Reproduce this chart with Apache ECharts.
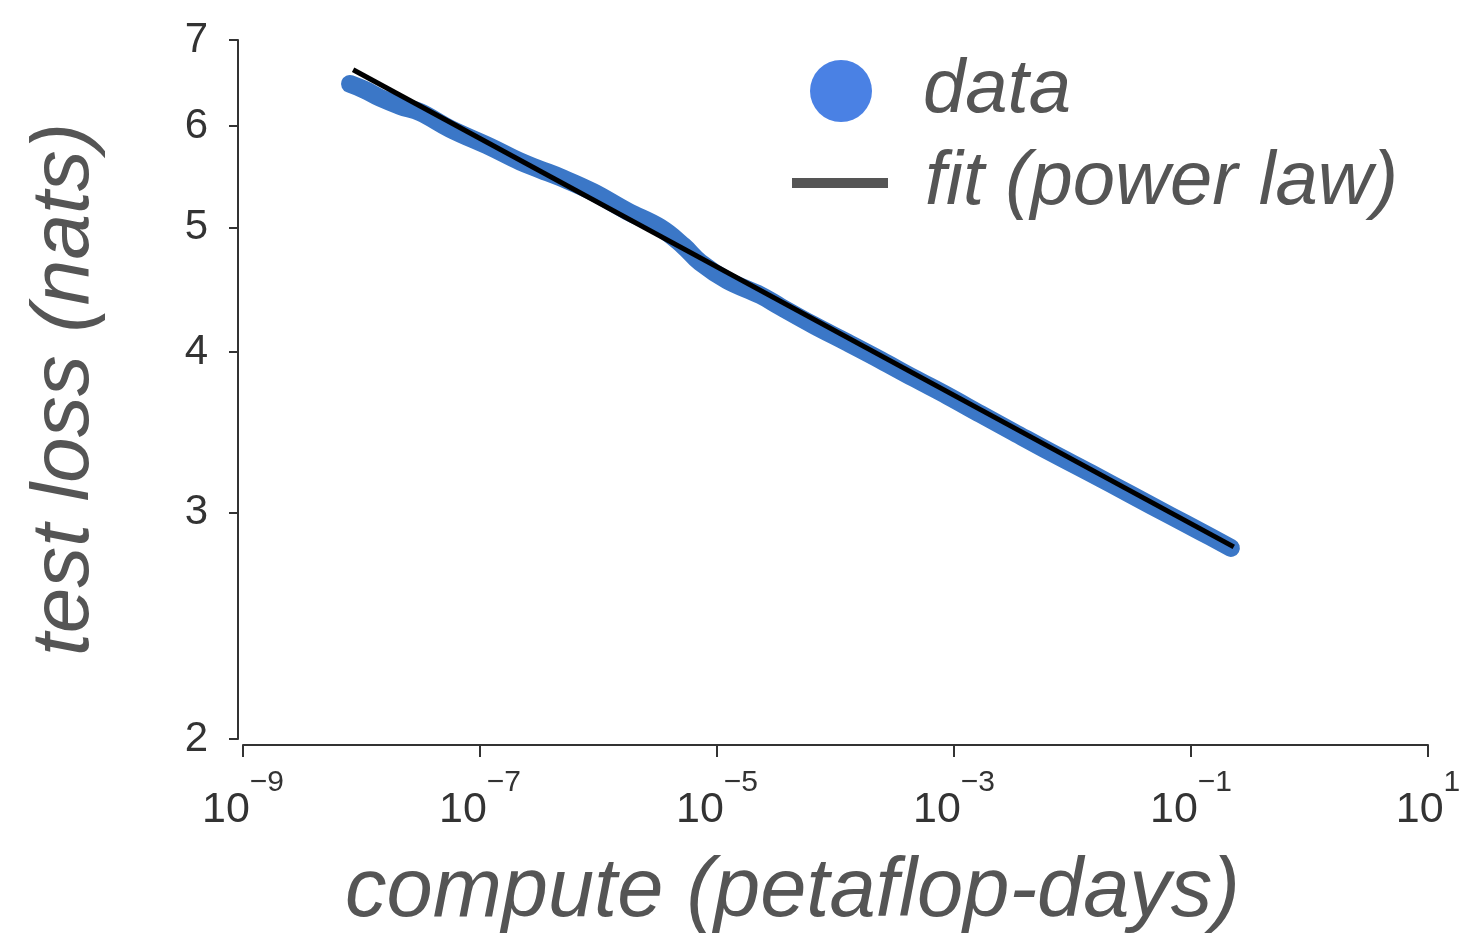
<!DOCTYPE html>
<html>
<head>
<meta charset="utf-8">
<script src="https://cdn.jsdelivr.net/npm/echarts@6/dist/echarts.min.js"></script>
<style>
html,body{margin:0;padding:0;background:#fff;}
#chart{width:1464px;height:936px;}
</style>
</head>
<body>
<div id="chart"></div>
<script>
// Data
const computePF = [8.0e-9, 1.07e-8, 1.44e-8, 2.12e-8, 3.13e-8, 5.6e-8, 1.22e-7, 2.18e-7, 3.22e-7, 4.75e-7, 9.0e-7, 1.75e-6, 3.33e-6, 5.2e-6, 7.2e-6, 1.22e-5, 2.33e-5, 3.43e-5, 6.5e-5, 1.26e-4, 2.40e-4, 4.56e-4, 8.8e-4, 1.68e-3, 3.18e-3, 6.5e-3, 0.0143, 0.031, 0.0675, 0.121, 0.217];
const testLoss  = [6.47, 6.40, 6.31, 6.22, 6.15, 5.97, 5.78, 5.63, 5.55, 5.473, 5.33, 5.15, 5.00, 4.84, 4.70, 4.55, 4.43, 4.34, 4.20, 4.07, 3.945, 3.82, 3.70, 3.58, 3.467, 3.345, 3.22, 3.10, 2.983, 2.90, 2.817];
const fitCompute = [8.5e-9, 0.2296];
const fitLoss = [6.636, 2.822];
const xTicks = [1e-9, 1e-7, 1e-5, 1e-3, 1e-1, 1e1];
const yTicks = [2, 3, 4, 5, 6, 7];

const dataPts = computePF.map((c, i) => [c, testLoss[i]]);
const fitPts = fitCompute.map((c, i) => [c, fitLoss[i]]);

const FONT = "'Liberation Sans', Arial, sans-serif";
const chart = echarts.init(document.getElementById('chart'), null, {renderer: 'canvas'});
chart.setOption({
  backgroundColor: '#fff',
  animation: false,
  grid: {left: 243, right: 36, top: 40, bottom: 197, containLabel: false, outerBoundsMode: 'none'},
  legend: [
    {
      data: [{name: 'data', icon: 'circle', itemStyle: {color: '#4a81e4'}}],
      left: 810, top: 53, padding: 0,
      itemWidth: 62, itemHeight: 62,
      textStyle: {fontFamily: FONT, fontStyle: 'italic', fontSize: 76, color: '#555', padding: [0, 0, 0, 46]}
    },
    {
      data: [{name: 'fit (power law)', icon: 'rect', itemStyle: {color: '#555'}}],
      left: 792, top: 145, padding: 0,
      itemWidth: 96, itemHeight: 10,
      textStyle: {fontFamily: FONT, fontStyle: 'italic', fontSize: 76, color: '#555', padding: [0, 0, 0, 32]}
    }
  ],
  xAxis: {
    type: 'log', logBase: 10, min: 1e-9, max: 10,
    offset: 6,
    name: 'compute (petaflop-days)',
    nameLocation: 'middle',
    nameGap: 106,
    nameTextStyle: {fontFamily: FONT, fontStyle: 'italic', fontSize: 83, color: '#555', padding: [0, 86, 0, 0]},
    axisLine: {show: true, lineStyle: {color: '#333', width: 2}},
    axisTick: {show: true, length: 12, lineStyle: {color: '#333', width: 2}, customValues: xTicks},
    minorTick: {show: false},
    splitLine: {show: false},
    axisLabel: {
      customValues: xTicks,
      margin: 44,
      formatter: function (v) {
        const e = Math.round(Math.log10(v));
        const s = (e < 0 ? '\u2212' : '') + Math.abs(e);
        return '{b|10}{s|' + s + '}';
      },
      rich: {
        b: {fontFamily: FONT, fontSize: 43, lineHeight: 43, color: '#333', verticalAlign: 'bottom'},
        s: {fontFamily: FONT, fontSize: 30, lineHeight: 30, color: '#333', verticalAlign: 'bottom', padding: [0, 0, 34, 0]}
      }
    }
  },
  yAxis: {
    type: 'log', logBase: 10, min: 2, max: 7,
    offset: 5,
    name: 'test loss (nats)',
    nameLocation: 'middle',
    nameGap: 132,
    nameTextStyle: {fontFamily: FONT, fontStyle: 'italic', fontSize: 82, color: '#555'},
    axisLine: {show: true, lineStyle: {color: '#333', width: 2}},
    axisTick: {show: true, length: 9, lineStyle: {color: '#333', width: 2}, customValues: yTicks},
    minorTick: {show: false},
    splitLine: {show: false},
    axisLabel: {customValues: yTicks, margin: 30, fontFamily: FONT, fontSize: 42, color: '#333'}
  },
  series: [
    {
      name: 'data', type: 'line', data: dataPts, smooth: 0.4,
      symbol: 'none', z: 2,
      lineStyle: {color: '#3b77c7', width: 18, cap: 'round', join: 'round'},
      itemStyle: {color: '#4a81e4'}
    },
    {
      name: 'fit (power law)', type: 'line', data: fitPts,
      symbol: 'none', z: 3,
      lineStyle: {color: '#000', width: 5},
      itemStyle: {color: '#555'}
    }
  ]
});
</script>
</body>
</html>
